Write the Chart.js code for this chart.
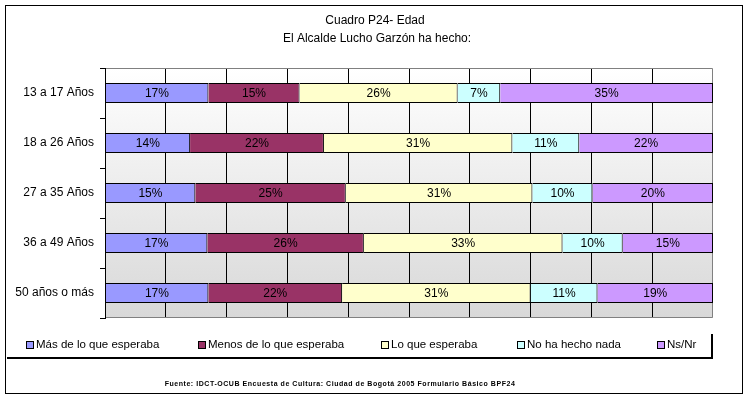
<!DOCTYPE html>
<html>
<head>
<meta charset="utf-8">
<script src="https://cdn.jsdelivr.net/npm/chart.js@4"></script>
<style>
  body { margin: 0; background: #fff; }
  canvas { display: block; }
</style>
</head>
<body>
<canvas id="chart" width="749" height="399"></canvas>
<script>
// Datos del cuadro P24
const categories = ['13 a 17 Años', '18 a 26 Años', '27 a 35 Años', '36 a 49 Años', '50 años o más'];
const seriesNames = ['Más de lo que esperaba', 'Menos de lo que esperaba', 'Lo que esperaba', 'No ha hecho nada', 'Ns/Nr'];
const masEsperaba = [17, 14, 15, 17, 17];
const menosEsperaba = [15, 22, 25, 26, 22];
const loEsperaba = [26, 31, 31, 33, 31];
const noHaHecho = [7, 11, 10, 10, 11];
const nsNr = [35, 22, 20, 15, 19];
const titleLines = ['Cuadro P24- Edad', 'El Alcalde Lucho Garzón ha hecho:'];
const footerText = 'Fuente: IDCT-OCUB Encuesta de Cultura: Ciudad de Bogotá 2005 Formulario Básico BPF24';

const seriesValues = [masEsperaba, menosEsperaba, loEsperaba, noHaHecho, nsNr];
const colors = ['#9999FF', '#993366', '#FFFFCC', '#CCFFFF', '#CC99FF'];
const FONT = "'Liberation Sans', Arial, sans-serif";

// Barras al 100%: cada fila se reparte segun su total
const rowTotals = categories.map((c, i) => seriesValues.reduce((s, arr) => s + arr[i], 0));

const datasets = seriesNames.map((name, k) => ({
    label: name,
    raw: seriesValues[k],
    data: seriesValues[k].map((v, i) => v / rowTotals[i] * 100),
    backgroundColor: colors[k],
    borderColor: '#000',
    borderWidth: 1,
    borderSkipped: 'start',
    barPercentage: 0.4,
    categoryPercentage: 1
}));

// Posiciones de la leyenda (x de cada cuadrito)
const legendX = [26, 198, 381, 517, 657];

const decorPlugin = {
    id: 'decor',
    beforeDraw(chart) {
        const { ctx, chartArea: a } = chart;
        ctx.save();
        ctx.fillStyle = '#fff';
        ctx.fillRect(0, 0, chart.width, chart.height);
        const g = ctx.createLinearGradient(0, a.top, 0, a.bottom);
        g.addColorStop(0, '#ffffff');
        g.addColorStop(1, '#d8d8d8');
        ctx.fillStyle = g;
        ctx.fillRect(a.left, a.top, a.right - a.left, a.bottom - a.top);
        ctx.restore();
    },
    beforeDatasetsDraw(chart) {
        const { ctx, chartArea: a } = chart;
        ctx.save();
        ctx.strokeStyle = '#808080';
        ctx.lineWidth = 1;
        ctx.beginPath();
        ctx.moveTo(a.left, a.top + 0.5);
        ctx.lineTo(a.right - 0.5, a.top + 0.5);
        ctx.lineTo(a.right - 0.5, a.bottom - 0.5);
        ctx.lineTo(a.left, a.bottom - 0.5);
        ctx.stroke();
        ctx.restore();
    },
    afterDatasetsDraw(chart) {
        const { ctx, chartArea: a } = chart;
        ctx.save();
        // borde izquierdo de las barras
        ctx.strokeStyle = '#000';
        ctx.lineWidth = 1;
        ctx.beginPath();
        ctx.moveTo(a.left + 0.5, a.top);
        ctx.lineTo(a.left + 0.5, a.bottom);
        ctx.stroke();

        ctx.font = '12px ' + FONT;
        ctx.fillStyle = '#000';
        ctx.textAlign = 'center';
        ctx.textBaseline = 'middle';
        chart.data.datasets.forEach((ds, k) => {
            chart.getDatasetMeta(k).data.forEach((el, i) => {
                ctx.fillText(ds.raw[i] + '%', (el.x + el.base) / 2, el.y + 1);
            });
        });
        ctx.restore();
    },
    afterDraw(chart) {
        const { ctx } = chart;
        ctx.save();
        // titulo
        ctx.fillStyle = '#000';
        ctx.textAlign = 'center';
        ctx.textBaseline = 'middle';
        ctx.font = '12px ' + FONT;
        ctx.fillText(titleLines[0], 375, 21);
        ctx.fillText(titleLines[1], 377, 39);

        // leyenda
        ctx.textAlign = 'left';
        ctx.font = '11.5px ' + FONT;
        chart.data.datasets.forEach((ds, k) => {
            const x = legendX[k];
            ctx.fillStyle = ds.backgroundColor;
            ctx.fillRect(x + 0.5, 341.5, 7, 7);
            ctx.strokeStyle = '#000';
            ctx.lineWidth = 1;
            ctx.strokeRect(x + 0.5, 341.5, 7, 7);
            ctx.fillStyle = '#000';
            ctx.fillText(ds.label, x + 10, 345);
        });
        ctx.strokeStyle = '#000';
        ctx.lineWidth = 2;
        ctx.beginPath();
        ctx.moveTo(7, 358);
        ctx.lineTo(712, 358);
        ctx.lineTo(712, 334);
        ctx.stroke();

        // fuente
        ctx.textAlign = 'center';
        ctx.font = 'bold 7px ' + FONT;
        ctx.letterSpacing = '0.55px';
        ctx.fillText(footerText, 340, 384);
        ctx.letterSpacing = '0px';

        // marco exterior
        ctx.lineWidth = 1;
        ctx.strokeRect(5.5, 5.5, 737, 388);
        ctx.restore();
    }
};

new Chart(document.getElementById('chart'), {
    type: 'bar',
    data: { labels: categories, datasets: datasets },
    options: {
        indexAxis: 'y',
        responsive: false,
        animation: false,
        events: [],
        layout: { padding: { left: 0, top: 68, right: 36, bottom: 81 } },
        plugins: { legend: { display: false }, title: { display: false }, tooltip: { enabled: false } },
        scales: {
            x: {
                stacked: true,
                min: 0,
                max: 100,
                ticks: { display: false, stepSize: 10 },
                border: { display: false },
                grid: {
                    drawTicks: false,
                    lineWidth: 1,
                    color: (c) => (c.tick && (c.tick.value === 0 || c.tick.value === 100)) ? 'rgba(0,0,0,0)' : '#000'
                },
                afterFit(scale) { scale.height = 0; }
            },
            y: {
                stacked: true,
                border: { display: true, color: '#000', width: 1 },
                grid: { drawOnChartArea: false, drawTicks: true, tickLength: 5, color: '#000', offset: true },
                ticks: { color: '#000', padding: 6, font: { family: FONT, size: 12 } },
                afterFit(scale) { scale.width = 105; }
            }
        }
    },
    plugins: [decorPlugin]
});
</script>
</body>
</html>
